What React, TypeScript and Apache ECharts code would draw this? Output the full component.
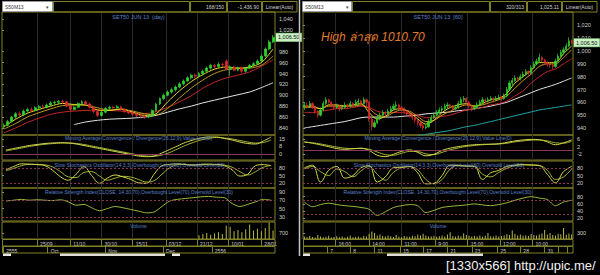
import React, { useEffect, useRef } from "react";
import * as echarts from "echarts";

// ================= LEFT PANEL: SET50 JUN 13 (day) =================
// candles: [open, close, low, high]
const leftCandles: number[][] = [
  [842, 845, 838, 848], [845, 852, 843, 855], [852, 860, 850, 862], [860, 866, 857, 869], [866, 864, 860, 870],
  [864, 871, 862, 874], [871, 874, 868, 877], [874, 872, 869, 878], [872, 877, 870, 880], [877, 879, 874, 882],
  [879, 878, 875, 883], [878, 882, 876, 885], [882, 886, 880, 889], [886, 887, 883, 890], [887, 889, 884, 891],
  [889, 888, 884, 892], [888, 880, 878, 890], [880, 874, 871, 882], [874, 878, 872, 880], [878, 885, 876, 887],
  [885, 888, 882, 891], [888, 884, 881, 890], [884, 878, 876, 886], [878, 870, 867, 880], [870, 863, 860, 872],
  [863, 869, 861, 871], [869, 876, 867, 878], [876, 878, 873, 881], [878, 877, 874, 880], [877, 879, 875, 882],
  [879, 874, 872, 881], [874, 870, 868, 876], [870, 868, 865, 873], [868, 865, 862, 870], [865, 863, 860, 868],
  [863, 862, 858, 866], [862, 860, 857, 864], [860, 862, 858, 865], [862, 872, 861, 874], [872, 884, 870, 886],
  [884, 894, 882, 896], [894, 900, 891, 903], [900, 906, 898, 909], [906, 910, 903, 914], [910, 915, 907, 918],
  [915, 921, 913, 924], [921, 926, 918, 929], [926, 932, 924, 935], [932, 937, 929, 940], [937, 935, 931, 940],
  [935, 940, 933, 943], [940, 944, 937, 947], [944, 950, 941, 953], [950, 955, 947, 958], [955, 953, 949, 958],
  [953, 957, 950, 961], [957, 956, 952, 960], [963, 948, 946, 966], [948, 952, 936, 955], [952, 946, 944, 954],
  [946, 951, 944, 953], [951, 944, 941, 953], [944, 950, 942, 952], [950, 955, 948, 957], [955, 958, 953, 961],
  [958, 963, 956, 966], [963, 972, 961, 975], [972, 985, 970, 988], [985, 998, 983, 1002], [998, 1006.5, 996, 1010.7],
];
const leftLastPrice = 1006.5;
// moving averages sampled every 3 candles (from candle 0)
const leftMaYellow = [842, 856, 867, 874, 880, 885, 883, 882, 873, 872, 875, 869, 863, 866, 888, 908, 925, 938, 948, 952, 950, 952, 960, 985];
const leftMaOrange = [838, 848, 860, 868, 875, 881, 882, 882, 877, 873, 874, 871, 866, 864, 876, 895, 913, 928, 940, 947, 949, 950, 955, 972];
const leftMaRed = [831, 840, 850, 858, 865, 869, 871, 872, 873, 872, 871, 868, 866, 870, 878, 888, 899, 913, 924, 932, 937, 943, 953, 965];
const leftMaWhite = [null, null, null, null, null, null, 846, 851, 854, 856, 857, 858, 860, 863, 869, 875, 880, 886, 891, 896, 901, 906, 914, 923];
// indicators sampled every 2 candles
const leftMacd = [4, 5.5, 7, 8.5, 9.5, 10.5, 11, 11.3, 11, 10, 8.5, 7, 5.5, 4, 2.5, 1, -0.5, -2, -2.7, -2, 1, 4.5, 8, 11.5, 14, 16, 17, 17, 15.5, 14, 12, 10.5, 10, 13, 17];
const leftMacdSignal = [3, 4.5, 6, 7.5, 8.7, 9.7, 10.4, 10.9, 11, 10.5, 9.5, 8, 6.5, 5, 3.5, 2, 0.5, -1, -2, -2.2, -1, 1.5, 5, 8.5, 11.5, 14, 15.5, 16.5, 16, 15, 13.5, 12, 11, 11.5, 14];
const leftStochK = [72, 85, 95, 94, 92, 88, 70, 45, 32, 55, 84, 50, 20, 40, 52, 45, 35, 22, 20, 55, 88, 93, 95, 92, 90, 93, 94, 92, 88, 72, 48, 55, 88, 92, 88];
const leftStochD = [68, 78, 88, 93, 93, 91, 83, 65, 45, 42, 62, 65, 48, 32, 40, 47, 44, 35, 25, 30, 55, 80, 92, 93, 91, 91, 92, 92, 90, 82, 65, 52, 65, 82, 89];
const leftRsi = [68, 70, 72, 70, 71, 70, 69, 71, 66, 58, 60, 52, 45, 50, 55, 52, 48, 44, 40, 42, 55, 68, 72, 74, 76, 78, 79, 77, 76, 62, 55, 60, 66, 72, 70];
const leftVolumeStart = 50;
const leftVolume = [450, 600, 700, 500, 650, 800, 600, 1550, 1450, 900, 1050, 800, 1150, 1700, 1000, 1200, 900, 1300, 1950, 1000];
const leftPriceTicks = [840, 860, 880, 900, 920, 940, 960, 980, 1020, 1040];
const leftMacdTicks = [0, 8, 15];
const leftStochTicks = [20, 50, 80];
const leftRsiTicks = [30, 50, 70, 90];
const leftVolTicks = [700];
const leftDateTicks = [9, 17.5, 25.5, 33.5, 42, 50, 58, 66.5];
const leftDateLabels = ["25/09", "11/10", "30/10", "15/11", "03/12", "21/12", "10/01", "28/01"];
const leftMonthTicks = [0.3, 11.7, 26.5, 41.3, 53.8];
const leftMonthLabels = ["2555", "Oct", "Nov", "Dec", "2556"];

// ================= RIGHT PANEL: SET50 JUN 13 [60] =================
const rightCandles: number[][] = [
  [956, 958, 954, 960], [958, 957, 955, 960], [957, 959, 956, 961], [959, 956, 955, 960], [956, 953, 951, 957],
  [953, 950, 948, 954], [950, 954, 949, 956], [954, 959, 953, 961], [959, 962, 958, 964], [962, 960, 959, 963],
  [960, 958, 956, 961], [958, 956, 954, 959], [956, 957, 955, 959], [957, 955, 953, 958], [955, 956, 954, 958],
  [956, 958, 955, 960], [958, 957, 955, 959], [957, 959, 956, 961], [959, 958, 956, 960], [958, 960, 957, 962],
  [960, 961, 958, 963], [961, 959, 957, 962], [959, 962, 958, 964], [962, 960, 957, 963], [960, 947, 945, 961],
  [947, 941, 938, 949], [941, 944, 940, 946], [944, 948, 943, 950], [948, 950, 946, 952], [950, 952, 949, 954],
  [952, 951, 949, 953], [951, 953, 950, 955], [953, 955, 952, 957], [955, 957, 954, 959], [957, 958, 955, 961],
  [958, 956, 954, 959], [956, 954, 953, 957], [954, 953, 951, 956], [953, 951, 949, 954], [951, 950, 948, 952],
  [950, 948, 946, 951], [948, 946, 944, 949], [946, 944, 942, 947], [944, 942, 940, 945], [942, 940, 938, 943],
  [940, 941, 939, 943], [941, 945, 940, 947], [945, 948, 944, 950], [948, 950, 947, 952], [950, 952, 949, 954],
  [952, 954, 951, 956], [954, 955, 952, 957], [955, 957, 954, 959], [957, 958, 955, 960], [958, 957, 955, 959],
  [957, 955, 953, 958], [955, 956, 954, 958], [956, 959, 955, 961], [959, 962, 958, 964], [962, 963, 960, 965],
  [963, 960, 958, 964], [960, 957, 955, 961], [957, 955, 953, 958], [955, 956, 954, 958], [956, 958, 955, 960],
  [958, 960, 957, 962], [960, 962, 959, 964], [962, 961, 959, 963], [961, 962, 960, 964], [962, 963, 961, 965],
  [963, 962, 960, 964], [962, 963, 961, 965], [963, 964, 962, 966], [964, 963, 961, 965], [963, 965, 962, 967],
  [965, 970, 964, 972], [970, 975, 969, 977], [975, 977, 973, 979], [977, 979, 976, 981], [979, 978, 976, 980],
  [978, 980, 977, 982], [980, 982, 979, 984], [982, 984, 981, 986], [984, 983, 981, 985], [983, 987, 982, 989],
  [987, 990, 986, 992], [990, 992, 989, 994], [992, 995, 991, 998], [995, 993, 991, 996], [993, 991, 989, 994],
  [991, 990, 988, 992], [990, 989, 987, 991], [989, 988, 986, 990], [988, 992, 987, 994], [992, 996, 991, 998],
  [996, 999, 995, 1001], [999, 1001, 997, 1003], [1001, 1004, 1000, 1006], [1004, 1008, 1003, 1010.7], [1008, 1006.5, 1005, 1009],
];
const rightLastPrice = 1006.5;
// moving averages sampled every 3 candles
const rightMaYellow = [957, 957, 955, 958, 958, 957, 958, 959, 952, 947, 949, 954, 955, 952, 947, 943, 946, 952, 956, 958, 959, 957, 959, 962, 963, 967, 975, 980, 985, 991, 991, 991, 998, 1004];
const rightMaOrange = [956, 956, 955, 957, 957, 957, 957, 958, 955, 950, 949, 952, 954, 953, 949, 945, 946, 950, 953, 956, 958, 957, 958, 960, 962, 965, 971, 977, 982, 988, 990, 990, 995, 1001];
const rightMaRed = [952, 952, 953, 954, 955, 955, 956, 957, 956, 953, 952, 952, 952, 951, 950, 948, 948, 949, 950, 952, 954, 955, 956, 958, 959, 961, 965, 969, 975, 980, 984, 986, 990, 994];
const rightMaWhite = [940, 941, 942, 943, 944, 945, 946.5, 948, 948.5, 948.5, 948.5, 948.5, 949, 949.5, 950, 951, 951.5, 952, 952.5, 953.5, 954, 955, 956, 957, 958.5, 960, 962.5, 965, 967.5, 970, 972, 974, 976.5, 979];
const rightMaCyan = [null, null, null, null, null, null, null, null, null, null, null, null, null, null, 934, 935, 936, 937, 938, 939.5, 941, 942, 943.5, 945, 946.5, 948, 949.5, 951, 952.5, 954, 955, 956, 957, 958];
// indicators sampled every 3 candles
const rightMacd = [4.6, 3.8, 2.9, 2, 1, 0.6, 0.9, 1.2, 0, -2.5, -3.2, -2, -0.5, 0.3, -1, -2.8, -2, 0, 1.2, 2, 2.6, 3, 3.2, 3.3, 3.5, 4.2, 5, 5.5, 5.8, 5.6, 4.5, 3, 4, 5.5];
const rightMacdSignal = [4.2, 4, 3.4, 2.6, 1.8, 1.2, 1, 1, 0.6, -0.8, -2.2, -2.5, -1.5, -0.5, -0.6, -1.8, -2.2, -1, 0.3, 1.3, 2.1, 2.6, 3, 3.2, 3.4, 3.8, 4.5, 5, 5.4, 5.5, 5, 4, 3.8, 4.8];
const rightStochK = [80, 90, 25, 70, 85, 40, 50, 80, 88, 25, 45, 80, 82, 85, 60, 18, 20, 50, 90, 88, 86, 85, 35, 60, 70, 85, 90, 92, 90, 88, 55, 22, 65, 85];
const rightStochD = [75, 85, 65, 50, 75, 65, 45, 68, 85, 55, 32, 62, 80, 84, 72, 35, 18, 35, 75, 90, 87, 86, 55, 45, 62, 78, 88, 91, 91, 89, 70, 35, 45, 75];
const rightRsi = [65, 52, 58, 62, 58, 55, 53, 50, 45, 28, 38, 50, 55, 58, 55, 36, 42, 50, 53, 55, 57, 60, 57, 55, 58, 63, 70, 76, 80, 76, 72, 55, 65, 70];
const rightVolumeStart = 0;
const rightVolume = [
  120, 90, 150, 100, 80, 200, 130, 90, 110, 160,
  80, 100, 140, 90, 120, 70, 110, 180, 90, 100,
  130, 80, 150, 120, 260, 380, 300, 180, 220, 150,
  120, 170, 140, 100, 200, 130, 90, 150, 120, 110,
  160, 140, 230, 180, 260, 170, 130, 120, 160, 110,
  140, 180, 130, 220, 340, 150, 120, 180, 140, 280,
  200, 160, 120, 150, 130, 180, 110, 160, 300, 140,
  120, 170, 130, 150, 180, 240, 200, 430, 260, 180,
  220, 160, 190, 150, 250, 200, 170, 230, 280, 450,
  220, 300, 200, 180, 260, 240, 550, 210, 280, 230,
];
const rightPriceTicks = [940, 950, 960, 970, 980, 990, 1000, 1010, 1020];
const rightMacdTicks = [-2, 2, 6];
const rightStochTicks = [20, 50, 80];
const rightRsiTicks = [20, 40, 60, 80];
const rightVolTicks = [300];
const rightDateTicks = [12, 24.5, 36.5, 49, 61, 73, 85];
const rightDateLabels = ["16:00", "14:00", "11:00", "9:00", "15:00", "12:00", "10:00"];
const rightMonthTicks = [0, 9, 17.5, 26.5, 36, 44.5, 53.5, 62.5, 72, 80.5, 89.5, 94.5, 98];
const rightMonthLabels = ["", "7", "8", "11", "15", "17", "21", "23", "25", "28", "31", "", ""];

// ================= styling =================
const FONT = "'Liberation Sans', Arial, sans-serif";
const OLIVE = "#808026";
const GRIDV = "#2a2a2a";
const LABEL = "#d2d2d2";
const TITLE = "#5a80cc";
const LEVEL = "#8a3657";
const UP = "#2fd62f";
const DOWN = "#e0292b";

type Panel = {
  left: number; width: number; candles: number[][]; candleWidth: number; lastPrice: number;
  priceMin: number; priceMax: number; priceTicks: number[];
  maStep: number; mas: { data: (number | null)[]; color: string }[];
  indStep: number; indOffset: number;
  macd: number[]; macdSignal: number[]; macdMin: number; macdMax: number; macdTicks: number[];
  stochK: number[]; stochD: number[]; stochTicks: number[];
  rsi: number[]; rsiMin: number; rsiMax: number; rsiTicks: number[];
  vol: number[]; volStart: number; volMax: number; volTicks: number[];
  dateTicks: number[]; dateLabels: string[]; monthTicks: number[]; monthLabels: string[];
};

const panels: Panel[] = [
  {
    left: 2, width: 273, candles: leftCandles, candleWidth: 2.4, lastPrice: leftLastPrice,
    priceMin: 827, priceMax: 1053, priceTicks: leftPriceTicks,
    maStep: 3,
    mas: [
      { data: leftMaWhite, color: "#e4e4e4" },
      { data: leftMaRed, color: "#c3262a" },
      { data: leftMaOrange, color: "#b89a1c" },
      { data: leftMaYellow, color: "#e6d62c" },
    ],
    indStep: 2, indOffset: 1,
    macd: leftMacd, macdSignal: leftMacdSignal, macdMin: -6, macdMax: 19, macdTicks: leftMacdTicks,
    stochK: leftStochK, stochD: leftStochD, stochTicks: leftStochTicks,
    rsi: leftRsi, rsiMin: 20.5, rsiMax: 99, rsiTicks: leftRsiTicks,
    vol: leftVolume, volStart: leftVolumeStart, volMax: 2000, volTicks: leftVolTicks,
    dateTicks: leftDateTicks, dateLabels: leftDateLabels, monthTicks: leftMonthTicks, monthLabels: leftMonthLabels,
  },
  {
    left: 303, width: 270, candles: rightCandles, candleWidth: 1.7, lastPrice: rightLastPrice,
    priceMin: 934.5, priceMax: 1030.5, priceTicks: rightPriceTicks,
    maStep: 3,
    mas: [
      { data: rightMaCyan, color: "#1fa3a8" },
      { data: rightMaWhite, color: "#e4e4e4" },
      { data: rightMaRed, color: "#c3262a" },
      { data: rightMaOrange, color: "#d4901c" },
      { data: rightMaYellow, color: "#e6d62c" },
    ],
    indStep: 3, indOffset: 0.5,
    macd: rightMacd, macdSignal: rightMacdSignal, macdMin: -5, macdMax: 8.1, macdTicks: rightMacdTicks,
    stochK: rightStochK, stochD: rightStochD, stochTicks: rightStochTicks,
    rsi: rightRsi, rsiMin: 12.5, rsiMax: 104, rsiTicks: rightRsiTicks,
    vol: rightVolume, volStart: rightVolumeStart, volMax: 850, volTicks: rightVolTicks,
    dateTicks: rightDateTicks, dateLabels: rightDateLabels, monthTicks: rightMonthTicks, monthLabels: rightMonthLabels,
  },
];

const PANES: [number, number][] = [[12, 123], [135, 25], [161, 27], [188, 33], [222, 17]];

const fmtThousands = (v: number) => v.toLocaleString("en-US");
const fmtPrice = (v: number) => v.toLocaleString("en-US", { minimumFractionDigits: 2, maximumFractionDigits: 2 });
const pick = (ticks: number[], labels: string[]) => (v: number) => {
  const i = ticks.findIndex((t) => Math.abs(t - v) < 1e-6);
  return i >= 0 ? labels[i] : "";
};

function buildOption() {
  const grid: any[] = [];
  const xAxis: any[] = [];
  const yAxis: any[] = [];
  const series: any[] = [];

  panels.forEach((p) => {
    const n = p.candles.length;
    const g = PANES.map(([top, height]) => {
      grid.push({
        left: p.left, top, width: p.width, height, show: true,
        borderColor: OLIVE, borderWidth: 1, backgroundColor: "transparent",
        containLabel: false, outerBoundsMode: "none",
      });
      return grid.length - 1;
    });
    // time axes (value) for each pane, giving the vertical date grid lines
    const tx = g.map((gi, k) => {
      const isVol = k === 4;
      xAxis.push({
        type: "value", gridIndex: gi, min: 0, max: n, position: "bottom",
        axisLine: { show: false },
        axisTick: { show: isVol, length: 7, customValues: p.dateTicks, lineStyle: { color: OLIVE, width: 1 } },
        axisLabel: isVol
          ? {
              show: true, customValues: p.dateTicks, formatter: pick(p.dateTicks, p.dateLabels),
              align: "left", verticalAlign: "top", margin: 2, padding: [0, 0, 0, 3],
              color: LABEL, fontSize: 5, fontFamily: FONT,
            }
          : { show: false },
        splitLine: { show: true, lineStyle: { color: GRIDV, width: 1 } },
      });
      return xAxis.length - 1;
    });
    // second label row (months / days)
    xAxis.push({
      type: "value", gridIndex: g[4], min: 0, max: n, position: "bottom", offset: 7,
      axisLine: { show: false },
      axisTick: { show: true, length: 7, customValues: p.monthTicks, lineStyle: { color: OLIVE, width: 1 } },
      axisLabel: {
        show: true, customValues: p.monthTicks, formatter: pick(p.monthTicks, p.monthLabels),
        align: "left", verticalAlign: "top", margin: 2, padding: [0, 0, 0, 3],
        color: LABEL, fontSize: 5, fontFamily: FONT,
      },
      splitLine: { show: false },
    });
    // category axis for the candles
    xAxis.push({
      type: "category", gridIndex: g[0], position: "bottom", show: false, boundaryGap: true,
      data: p.candles.map((_, i) => String(i)),
    });
    const cx = xAxis.length - 1;

    const yDef = (gi: number, min: number, max: number, ticks: number[], fmt?: (v: number) => string) => {
      yAxis.push({
        type: "value", gridIndex: gi, position: "right", min, max,
        axisLine: { show: false }, splitLine: { show: false },
        axisTick: { show: true, length: 2, customValues: ticks, lineStyle: { color: "#8a8a8a" } },
        axisLabel: {
          show: true, customValues: ticks, color: LABEL, fontSize: 5.5, fontFamily: FONT, margin: 4,
          formatter: fmt ?? ((v: number) => String(v)),
        },
      });
      return yAxis.length - 1;
    };
    const yPrice = yDef(g[0], p.priceMin, p.priceMax, p.priceTicks, fmtThousands);
    const yMacd = yDef(g[1], p.macdMin, p.macdMax, p.macdTicks);
    const yStoch = yDef(g[2], 2, 106, p.stochTicks);
    const yRsi = yDef(g[3], p.rsiMin, p.rsiMax, p.rsiTicks);
    const yVol = yDef(g[4], 0, p.volMax, p.volTicks);

    // candles
    series.push({
      type: "candlestick", xAxisIndex: cx, yAxisIndex: yPrice, data: p.candles, barWidth: p.candleWidth,
      itemStyle: { color: UP, color0: DOWN, borderColor: UP, borderColor0: DOWN, borderWidth: 0.7 },
      z: 3,
    });
    // last-price badge on the price axis
    series.push({
      type: "line", xAxisIndex: cx, yAxisIndex: yPrice, data: [], symbol: "none", z: 20,
      markLine: {
        silent: true, symbol: "none",
        lineStyle: { color: "rgba(0,0,0,0)", width: 0 },
        label: {
          show: true, position: "end", distance: 1,
          formatter: (pr: any) => fmtPrice(Number(pr.value)),
          backgroundColor: "#c9f1c3", color: "#111111", fontSize: 5.5, fontFamily: FONT,
          padding: [1, 2, 1, 2], borderColor: "#5e9a5e", borderWidth: 0.6,
        },
        data: [{ yAxis: p.lastPrice }],
      },
    });
    // moving averages
    p.mas.forEach((ma) => {
      series.push({
        type: "line", xAxisIndex: tx[0], yAxisIndex: yPrice, symbol: "none", smooth: 0.3, z: 2,
        lineStyle: { color: ma.color, width: 1 },
        data: ma.data.map((v, k) => [0.5 + p.maStep * k, v]),
      });
    });
    const ind = (arr: number[]) => arr.map((v, k) => [p.indOffset + p.indStep * k, v]);
    const levels = (vals: number[], type: any) => ({
      silent: true, symbol: "none", label: { show: false },
      lineStyle: { color: LEVEL, type, width: 1 },
      data: vals.map((v) => ({ yAxis: v })),
    });
    // MACD
    series.push({
      type: "line", xAxisIndex: tx[1], yAxisIndex: yMacd, symbol: "none", smooth: 0.4,
      lineStyle: { color: "#a3b534", width: 1 }, data: ind(p.macdSignal),
      markLine: levels([0], "solid"),
    });
    series.push({
      type: "line", xAxisIndex: tx[1], yAxisIndex: yMacd, symbol: "none", smooth: 0.4,
      lineStyle: { color: "#d6d84a", width: 1 }, data: ind(p.macd),
    });
    // Stochastics
    series.push({
      type: "line", xAxisIndex: tx[2], yAxisIndex: yStoch, symbol: "none", smooth: 0.4,
      lineStyle: { color: "#a3b534", width: 1 }, data: ind(p.stochD),
      markLine: levels([20, 80], [2, 2]),
    });
    series.push({
      type: "line", xAxisIndex: tx[2], yAxisIndex: yStoch, symbol: "none", smooth: 0.4,
      lineStyle: { color: "#d6d84a", width: 1 }, data: ind(p.stochK),
    });
    // RSI
    series.push({
      type: "line", xAxisIndex: tx[3], yAxisIndex: yRsi, symbol: "none", smooth: 0.3,
      lineStyle: { color: "#9cb838", width: 1 }, data: ind(p.rsi),
      markLine: levels([30, 70], [2, 2]),
    });
    // Volume
    series.push({
      type: "bar", xAxisIndex: tx[4], yAxisIndex: yVol, barWidth: 1,
      itemStyle: { color: "#b9b845" },
      data: p.vol.map((v, k) => [p.volStart + k + 0.5, v]),
    });
  });

  const txt = (x: number, y: number, text: string, fill: string, size: number, align = "left", extra: any = {}) => ({
    type: "text", x, y, z: 50,
    style: { text, fill, font: `${size}px ${FONT}`, align, verticalAlign: "middle", ...extra },
  });
  const box = (x: number, y: number, w: number, h: number, stroke: string, fill = "none", z = 40) => ({
    type: "rect", z, shape: { x, y, width: w, height: h }, style: { stroke, fill, lineWidth: 1 },
  });

  const graphic: any[] = [
    // left header
    box(2.5, 1.5, 50, 10, "#9a9a9a", "#ffffff"),
    txt(5, 6.8, "S50M13", "#333", 5),
    txt(46, 6.8, "▾", "#444", 5),
    box(53.5, 1.5, 136, 10.5, OLIVE),
    box(190.5, 1.5, 36, 10.5, OLIVE),
    box(227.5, 1.5, 34, 10.5, OLIVE),
    box(262.5, 1.5, 34.5, 10.5, OLIVE),
    txt(224, 7, "168/150", LABEL, 5, "right"),
    txt(259, 7, "-1,436.90", LABEL, 5, "right"),
    txt(279.5, 7, "Linear(Auto)", LABEL, 5, "center"),
    // right header
    box(302.5, 1.5, 49, 10, "#9a9a9a", "#ffffff"),
    txt(305, 6.8, "S50M13", "#333", 5),
    txt(346, 6.8, "▾", "#444", 5),
    box(352.5, 1.5, 137, 10.5, OLIVE),
    box(490.5, 1.5, 36, 10.5, OLIVE),
    box(527.5, 1.5, 34, 10.5, OLIVE),
    box(562.5, 1.5, 34.5, 10.5, OLIVE),
    txt(524, 7, "320/313", LABEL, 5, "right"),
    txt(559, 7, "1,025.11", LABEL, 5, "right"),
    txt(579.5, 7, "Linear(Auto)", LABEL, 5, "center"),
    // pane titles left
    txt(138.5, 16.5, "SET50 JUN 13  (day)", TITLE, 5.5, "center"),
    txt(138.5, 137.8, "Moving Average Convergence / Divergence(26,12,9),Value Line(0)", TITLE, 5, "center"),
    txt(139.5, 164.5, "Slow Stochastics Oscillator(14,3,3),Overbought Level(80),Oversold Level(20)", TITLE, 5, "center"),
    txt(139, 192, "Relative Strength Index(CLOSE, 14,30,70),Overbought Level(70),Oversold Level(30)", TITLE, 5, "center"),
    txt(138.5, 225.5, "Volume", TITLE, 5, "center"),
    // pane titles right
    txt(438, 16.5, "SET50 JUN 13  [60]", TITLE, 5.5, "center"),
    txt(438, 137.8, "Moving Average Convergence / Divergence(26,12,9),Value Line(0)", TITLE, 5, "center"),
    txt(439, 164.5, "Slow Stochastics Oscillator(14,3,3),Overbought Level(80),Oversold Level(20)", TITLE, 5, "center"),
    txt(437.5, 192, "Relative Strength Index(CLOSE, 14,30,70),Overbought Level(70),Oversold Level(30)", TITLE, 5, "center"),
    txt(438, 226, "Volume", TITLE, 5, "center"),
    // date label rows
    box(2.5, 239.5, 272.5, 6.5, OLIVE),
    box(2.5, 246.5, 272.5, 6.5, OLIVE),
    box(303.5, 239.5, 269.5, 6.5, OLIVE),
    box(303.5, 246.5, 269.5, 6.5, OLIVE),
    // scroll bars
    { type: "rect", z: 40, shape: { x: 3, y: 253.5, width: 8, height: 2.5 }, style: { fill: "#e8e8e0" } },
    { type: "rect", z: 40, shape: { x: 60, y: 253.5, width: 105, height: 2.5 }, style: { fill: "#deded2" } },
    { type: "rect", z: 40, shape: { x: 172, y: 253.5, width: 8, height: 2.5 }, style: { fill: "#e8e8e0" } },
    { type: "rect", z: 40, shape: { x: 303, y: 253.5, width: 7, height: 2.5 }, style: { fill: "#e8e8e0" } },
    { type: "rect", z: 40, shape: { x: 387, y: 253.5, width: 96, height: 2.5 }, style: { fill: "#deded2" } },
    // divider between panels
    { type: "line", z: 40, shape: { x1: 299.5, y1: 0, x2: 299.5, y2: 256 }, style: { stroke: "#c4c4c4", lineWidth: 1.5 } },
    // annotation
    {
      type: "text", x: 321, y: 36.5, z: 60,
      style: { text: "High ล่าสุด 1010.70", fill: "#e27a28", font: "italic 12px 'Liberation Sans', 'Noto Sans', sans-serif", verticalAlign: "middle" },
    },
    // watermark
    {
      type: "text", x: 446, y: 265, z: 60,
      style: { text: "[1330x566] http://upic.me/", fill: "#f2f2f2", font: "13px 'Liberation Sans', sans-serif", verticalAlign: "middle" },
    },
  ];

  return {
    animation: false,
    backgroundColor: "#000000",
    textStyle: { fontFamily: FONT },
    grid, xAxis, yAxis, series, graphic,
  };
}

export default function App() {
  const ref = useRef<HTMLDivElement>(null);
  useEffect(() => {
    document.body.style.margin = "0";
    document.body.style.background = "#000";
    const chart = echarts.init(ref.current!, null, { renderer: "svg", width: 600, height: 275 });
    chart.setOption(buildOption() as any);
    return () => chart.dispose();
  }, []);
  return <div ref={ref} style={{ width: 600, height: 275, background: "#000" }} />;
}
